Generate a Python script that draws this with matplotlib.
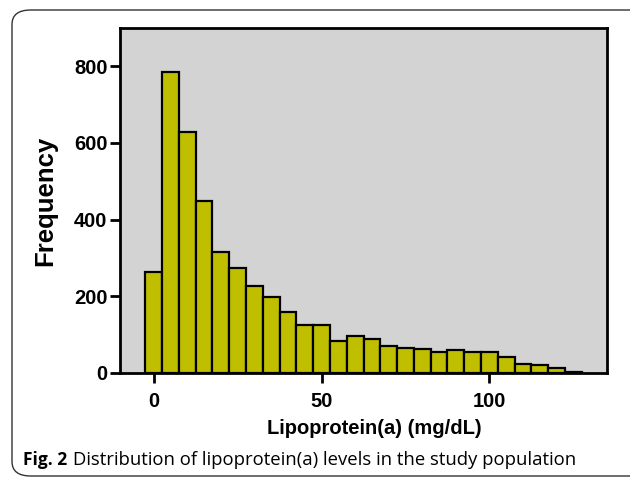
import matplotlib.pyplot as plt
from matplotlib.patches import FancyBboxPatch

# bin centres (mg/dL) and counts
bin_centers = [0, 5, 10, 15, 20, 25, 30, 35, 40, 45, 50, 55, 60,
               65, 70, 75, 80, 85, 90, 95, 100, 105, 110, 115, 120, 125]
counts = [263, 785, 629, 448, 316, 274, 228, 197, 158, 126, 126, 83, 97,
          89, 70, 66, 63, 56, 59, 56, 54, 43, 23, 21, 13, 2]
x_ticks = [0, 50, 100]
y_ticks = [0, 200, 400, 600, 800]

W, H = 630, 478
fig = plt.figure(figsize=(W / 100, H / 100), dpi=100)

# rounded frame around the figure panel
frame = FancyBboxPatch((12 / W, 2 / H), 640 / W, 466 / H,
                       boxstyle="round,pad=0,rounding_size=0.03",
                       transform=fig.transFigure, facecolor='none',
                       edgecolor='#333333', linewidth=1.0)
fig.patches.append(frame)

ax = fig.add_axes([120 / W, 1 - 373 / H, 487 / W, 345 / H])
ax.set_facecolor('#d3d3d3')
ax.bar(bin_centers, counts, width=5, color='#bfbf00', edgecolor='black',
       linewidth=1.6, zorder=2)

ax.set_xlim(-10, 135)
ax.set_ylim(0, 900)
ax.set_xticks(x_ticks)
ax.set_yticks(y_ticks)

for s in ax.spines.values():
    s.set_linewidth(2)
    s.set_color('black')

ax.tick_params(axis='both', direction='out', length=7, width=2,
               labelsize=14.5)
ax.tick_params(axis='x', pad=7)
ax.tick_params(axis='y', pad=2)
for lab in ax.get_xticklabels() + ax.get_yticklabels():
    lab.set_fontweight('bold')
    lab.set_family('Liberation Sans')

ax.set_xlabel('Lipoprotein(a) (mg/dL)', fontsize=14.5, fontweight='bold',
              family='Liberation Sans')
ax.xaxis.set_label_coords((374 - 120) / 487, -(428 - 373) / 345)
ax.xaxis.label.set_va('center')
ax.set_ylabel('Frequency', fontsize=18.5, fontweight='bold',
              family='Liberation Sans')
ax.yaxis.set_label_coords(-(120 - 45) / 487, 0.5)
ax.yaxis.label.set_va('center')

fig.text(23 / W, 1 - 465 / H, 'Fig. 2', fontsize=12.5, fontweight='bold',
         family='Open Sans', va='baseline', ha='left')
fig.text(73 / W, 1 - 465 / H,
         'Distribution of lipoprotein(a) levels in the study population',
         fontsize=13.3, family='Open Sans', va='baseline', ha='left')

fig.savefig('out.png', dpi=100)
